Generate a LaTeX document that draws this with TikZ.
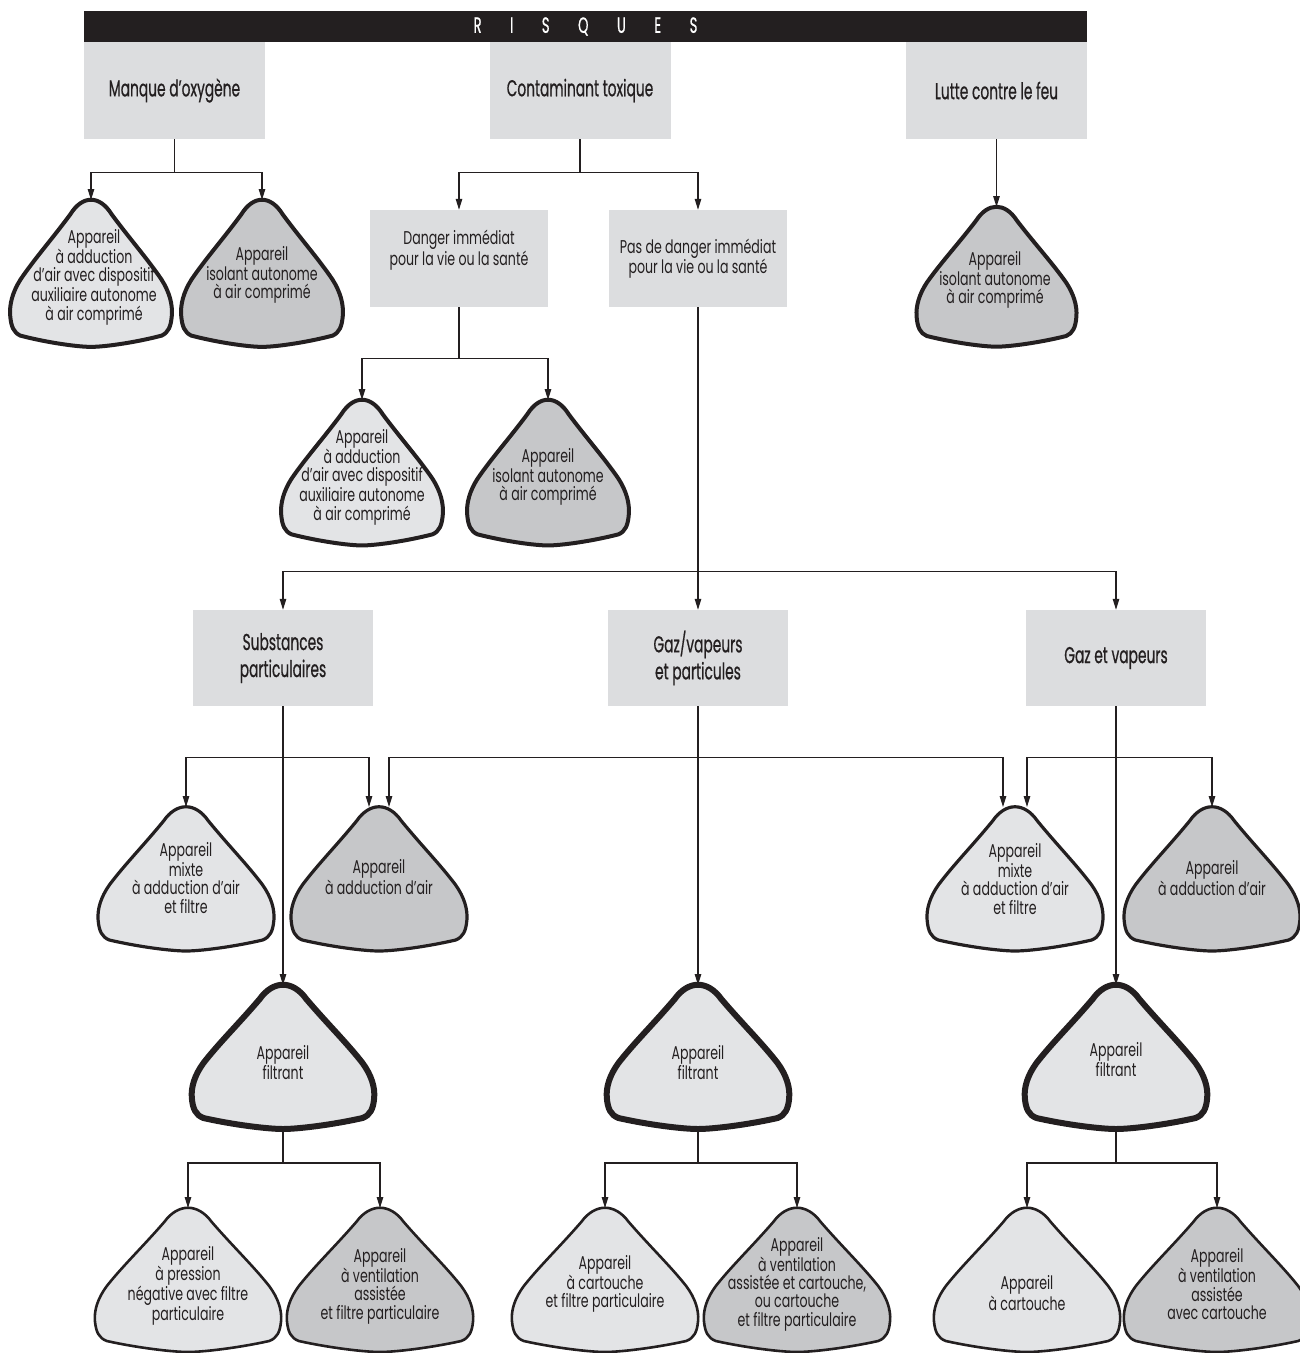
\documentclass[tikz,border=0pt]{standalone}
\usepackage{fontspec}
\usetikzlibrary{arrows.meta}
\newfontfamily\condfont[FakeStretch=0.68]{Poppins}
\newfontfamily\titrefont[FakeStretch=0.6,FakeBold=0.6]{Poppins}
\definecolor{ink}{RGB}{35,31,32}
\definecolor{boxgris}{RGB}{220,221,223}
\definecolor{appclair}{RGB}{227,228,230}
\definecolor{appfonce}{RGB}{198,199,201}
% rounded triangle of an appareil: style, apex x, apex y, xscale, yscale
\newcommand{\appshape}[5]{%
  \draw[#1, shift={(#2,#3)}, xscale=#4, yscale=#5] (-24,14) .. controls (-10,-5) and (10,-5) .. (24,14) .. controls (45,38) and (66,58) .. (82,78) .. controls (91,90) and (95,102) .. (94,113) .. controls (93,124) and (90,130) .. (82,133) .. controls (50,140) and (15,144) .. (0,144) .. controls (-15,144) and (-50,140) .. (-82,133) .. controls (-90,130) and (-93,124) .. (-94,113) .. controls (-95,102) and (-91,90) .. (-82,78) .. controls (-66,58) and (-45,38) .. (-24,14) -- cycle ;}
\begin{document}
\begin{tikzpicture}[x=1pt,y=1pt,yscale=-1,xscale=1,
  titre/.style={fill=boxgris, minimum width=181pt, minimum height=97pt, inner sep=0pt, align=center, text=ink, font=\titrefont\fontsize{23}{27}\selectfont},
  cas/.style={titre, minimum width=178pt, font=\condfont\fontsize{18.5}{19}\selectfont},
  txt/.style={inner sep=0.75pt, align=center, text=ink, font=\condfont\fontsize{18.5}{18.3}\selectfont},
  arr/.style={draw=ink, line width=1.2pt, -{Triangle[length=11pt,width=6.5pt]}},
  clair/.style={draw=ink, fill=appclair, line join=round},
  fonce/.style={draw=ink, fill=appfonce, line join=round}]
\useasboundingbox (0,0) rectangle (1300,1353);

%Shape: Rectangle (bandeau)
\node [fill=ink, minimum width=1003pt, minimum height=31pt, inner sep=0pt, text=white, font=\titrefont\fontsize{22}{22}\selectfont] (risques) at (585.5,26.5) {R\hspace{28.5pt}I\hspace{28.5pt}S\hspace{28.5pt}Q\hspace{28.5pt}U\hspace{28.5pt}E\hspace{28.5pt}S};

% Boxes
\node [titre] (manque) at (174.5,90.5) {Manque d’oxygène};
\node [titre] (contam) at (580,90.5) {Contaminant toxique};
\node [titre] (lutte) at (996.5,90.5) {Lutte contre le feu};
\node [cas] (danger) at (459,258.5) {};
\node [cas] (pasdanger) at (698,258.5) {Pas de danger immédiat\\pour la vie ou la santé};
\node [titre, minimum width=180pt, minimum height=96pt] (subst) at (283,658) {Substances\\particulaires};
\node [titre, minimum width=180pt, minimum height=96pt] (gazpart) at (698,658) {Gaz/vapeurs\\et particules};
\node [titre, minimum width=180pt, minimum height=96pt] (gazvap) at (1116,658) {Gaz et vapeurs};
% Text Node
\node [txt] (dangertxt) at (459,250) {Danger immédiat\\pour la vie ou la santé};

%Shape: Appareils
\appshape{clair, line width=4pt}{91}{200}{0.86}{1.02}
\appshape{fonce, line width=4pt}{262}{200}{0.86}{1.02}
\appshape{fonce, line width=4pt}{996.5}{207}{0.85}{0.97}
\appshape{clair, line width=4pt}{362}{400}{0.86}{1.01}
\appshape{fonce, line width=4pt}{548}{400}{0.86}{1.01}
\appshape{clair, line width=3.2pt}{186}{807}{0.935}{1.0}
\appshape{fonce, line width=3.2pt}{379}{807}{0.935}{1.0}
\appshape{clair, line width=3.2pt}{1015}{807}{0.935}{1.0}
\appshape{fonce, line width=3.2pt}{1212}{807}{0.935}{1.0}
\appshape{clair, line width=6pt}{283}{985}{0.97}{1.0}
\appshape{clair, line width=6pt}{698}{985}{0.97}{1.0}
\appshape{clair, line width=6pt}{1116}{985}{0.97}{1.0}
\appshape{clair, line width=2.6pt}{188}{1208}{0.99}{1.0}
\appshape{fonce, line width=2.6pt}{380}{1208}{0.99}{1.0}
\appshape{clair, line width=2.6pt}{605}{1208}{0.99}{1.0}
\appshape{fonce, line width=2.6pt}{797}{1208}{0.99}{1.0}
\appshape{clair, line width=2.6pt}{1027}{1208}{0.99}{1.0}
\appshape{fonce, line width=2.6pt}{1217}{1208}{0.99}{1.0}

% apex and foot points
\coordinate (a1) at (91,200);
\coordinate (a2) at (262,200);
\coordinate (a3) at (996.5,207);
\coordinate (a4) at (362,400);
\coordinate (a5) at (548,400);
\coordinate (a6) at (186,807);
\coordinate (a7l) at (369,807);
\coordinate (a7r) at (389,807);
\coordinate (a8l) at (1003,807);
\coordinate (a8r) at (1027,807);
\coordinate (a9) at (1212,807);
\coordinate (a10) at (283,985);
\coordinate (a11) at (698,985);
\coordinate (a12) at (1116,985);
\coordinate (b10) at (283,1131);
\coordinate (b11) at (698,1131);
\coordinate (b12) at (1116,1131);
\coordinate (a13) at (188,1208);
\coordinate (a14) at (380,1208);
\coordinate (a15) at (605,1208);
\coordinate (a16) at (797,1208);
\coordinate (a17) at (1027,1208);
\coordinate (a18) at (1217,1208);

% Text Node
\node [txt] (t1) at (94,277) {Appareil\\à adduction\\d’air avec dispositif\\auxiliaire autonome\\à air comprimé};
\node [txt] (t2) at (262,275) {Appareil\\isolant autonome\\à air comprimé};
\node [txt] (t3) at (995,280) {Appareil\\isolant autonome\\à air comprimé};
\node [txt] (t4) at (362,477) {Appareil\\à adduction\\d’air avec dispositif\\auxiliaire autonome\\à air comprimé};
\node [txt] (t5) at (548,477) {Appareil\\isolant autonome\\à air comprimé};
\node [txt] (t6) at (186,878) {Appareil\\mixte\\à adduction d’air\\et filtre};
\node [txt] (t7) at (379,877) {Appareil\\à adduction d’air};
\node [txt] (t8) at (1015,879) {Appareil\\mixte\\à adduction d’air\\et filtre};
\node [txt] (t9) at (1212,878) {Appareil\\à adduction d’air};
\node [txt] (t10) at (283,1063) {Appareil\\filtrant};
\node [txt] (t11) at (698,1063) {Appareil\\filtrant};
\node [txt] (t12) at (1116,1060) {Appareil\\filtrant};
\node [txt] (t13) at (188,1286) {Appareil\\à pression\\négative avec filtre\\particulaire};
\node [txt] (t14) at (380,1286) {Appareil\\à ventilation\\assistée\\et filtre particulaire};
\node [txt] (t15) at (605,1284) {Appareil\\à cartouche\\et filtre particulaire};
\node [txt] (t16) at (797,1284) {Appareil\\à ventilation\\assistée et cartouche,\\ou cartouche\\et filtre particulaire};
\node [txt] (t17) at (1027,1293) {Appareil\\à cartouche};
\node [txt] (t18) at (1217,1284) {Appareil\\à ventilation\\assistée\\avec cartouche};

%Straight Lines
\draw [arr] (manque.south) -- ++(0,33) -| (a1);
\draw [arr] (manque.south) -- ++(0,33) -| (a2);
\draw [arr] (contam.south) -- ++(0,33) -| (danger.north);
\draw [arr] (contam.south) -- ++(0,33) -| (pasdanger.north);
\draw [arr] (lutte.south) -- (a3);
\draw [arr] (danger.south) -- ++(0,51) -| (a4);
\draw [arr] (danger.south) -- ++(0,51) -| (a5);
\draw [arr] (pasdanger.south) -- (gazpart.north);
\draw [arr] (pasdanger.south) -- ++(0,264) -| (subst.north);
\draw [arr] (pasdanger.south) -- ++(0,264) -| (gazvap.north);
\draw [arr] (subst.south) -- (a10);
\draw [arr] (subst.south) -- ++(0,51) -| (a6);
\draw [arr] (subst.south) -- ++(0,51) -| (a7l);
\draw [arr] (gazpart.south) -- (a11);
\draw [arr] (gazpart.south) -- ++(0,51) -| (a7r);
\draw [arr] (gazpart.south) -- ++(0,51) -| (a8l);
\draw [arr] (gazvap.south) -- (a12);
\draw [arr] (gazvap.south) -- ++(0,51) -| (a8r);
\draw [arr] (gazvap.south) -- ++(0,51) -| (a9);
\draw [arr] (b10) -- ++(0,32) -| (a13);
\draw [arr] (b10) -- ++(0,32) -| (a14);
\draw [arr] (b11) -- ++(0,32) -| (a15);
\draw [arr] (b11) -- ++(0,32) -| (a16);
\draw [arr] (b12) -- ++(0,32) -| (a17);
\draw [arr] (b12) -- ++(0,32) -| (a18);

\end{tikzpicture}
\end{document}
